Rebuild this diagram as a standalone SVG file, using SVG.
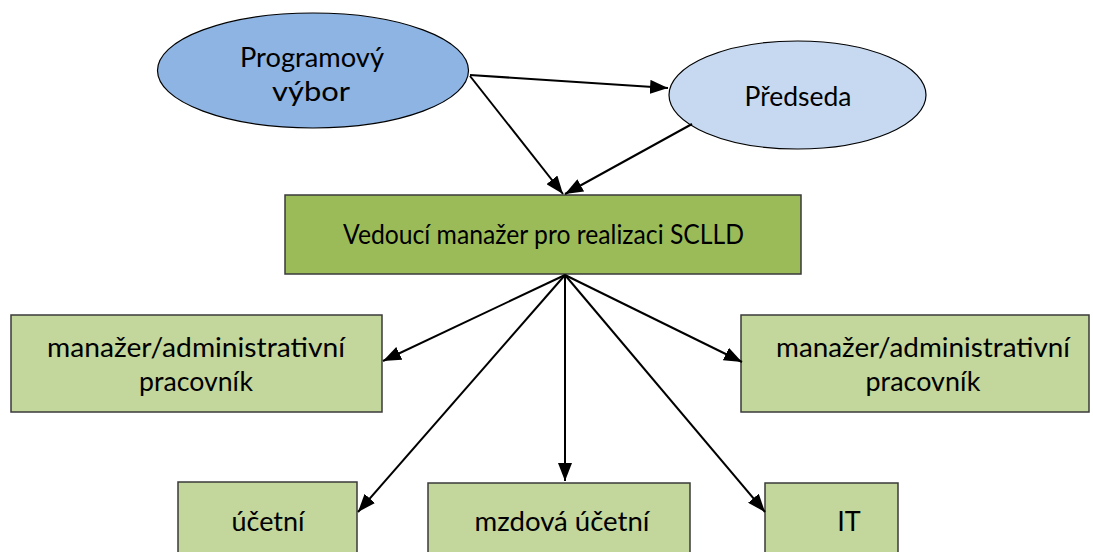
<svg xmlns="http://www.w3.org/2000/svg" width="1093" height="552" viewBox="0 0 1093 552">
<defs>
<marker id="ah" viewBox="0 0 10 10" refX="10" refY="5" markerWidth="18" markerHeight="14" markerUnits="userSpaceOnUse" orient="auto" preserveAspectRatio="none">
<path d="M0,0 L10,5 L0,10 z" fill="#000"/>
</marker>
<style>
text{font-family:Lato,"Liberation Sans",sans-serif;font-size:27px;fill:#000;text-anchor:middle}
.box{stroke:#3a3a3a;stroke-width:1.5}
.dark{fill:#9BBB59}
.light{fill:#C3D69B}
.conn line{stroke:#000;stroke-width:2;marker-end:url(#ah)}
</style>
</defs>
<rect width="1093" height="552" fill="#fff"/>
<g id="programovy-vybor">
<ellipse cx="313" cy="70.5" rx="155.5" ry="57.5" fill="#8EB4E3" stroke="#000" stroke-width="1.2"/>
<text x="312" y="67" textLength="144" lengthAdjust="spacingAndGlyphs">Programový</text>
<text x="311" y="101" textLength="78" lengthAdjust="spacingAndGlyphs">výbor</text>
</g>
<g id="predseda">
<ellipse cx="797.5" cy="95" rx="128.5" ry="54" fill="#C6D9F1" stroke="#000" stroke-width="1.2"/>
<text x="798" y="106" textLength="107" lengthAdjust="spacingAndGlyphs">Předseda</text>
</g>
<g id="vedouci">
<rect class="box dark" x="285" y="195" width="516" height="79"/>
<text x="543.5" y="244" textLength="401" lengthAdjust="spacingAndGlyphs">Vedoucí manažer pro realizaci SCLLD</text>
</g>
<g id="manazer-levy">
<rect class="box light" x="11" y="315" width="371" height="97"/>
<text x="196" y="357" textLength="298" lengthAdjust="spacingAndGlyphs">manažer/administrativní</text>
<text x="196" y="391" textLength="114" lengthAdjust="spacingAndGlyphs">pracovník</text>
</g>
<g id="manazer-pravy">
<rect class="box light" x="741" y="315" width="348" height="97"/>
<text x="923" y="357" textLength="294" lengthAdjust="spacingAndGlyphs">manažer/administrativní</text>
<text x="923" y="391" textLength="115" lengthAdjust="spacingAndGlyphs">pracovník</text>
</g>
<g id="ucetni">
<rect class="box light" x="178" y="482" width="179" height="80"/>
<text x="268" y="531" textLength="73" lengthAdjust="spacingAndGlyphs">účetní</text>
</g>
<g id="mzdova-ucetni">
<rect class="box light" x="428" y="483" width="262" height="80"/>
<text x="562" y="531" textLength="175" lengthAdjust="spacingAndGlyphs">mzdová účetní</text>
</g>
<g id="it">
<rect class="box light" x="765" y="483" width="133" height="80"/>
<text x="849" y="531">IT</text>
</g>
<g id="connectors" class="conn">
<line x1="470" y1="75" x2="668" y2="88"/>
<line x1="470" y1="76" x2="563" y2="194"/>
<line x1="692" y1="124" x2="565" y2="194"/>
<line x1="565" y1="275" x2="383" y2="361"/>
<line x1="565" y1="275" x2="742" y2="362"/>
<line x1="565" y1="275" x2="358" y2="512"/>
<line x1="565" y1="275" x2="565" y2="481"/>
<line x1="565" y1="275" x2="765" y2="512"/>
</g>
</svg>
